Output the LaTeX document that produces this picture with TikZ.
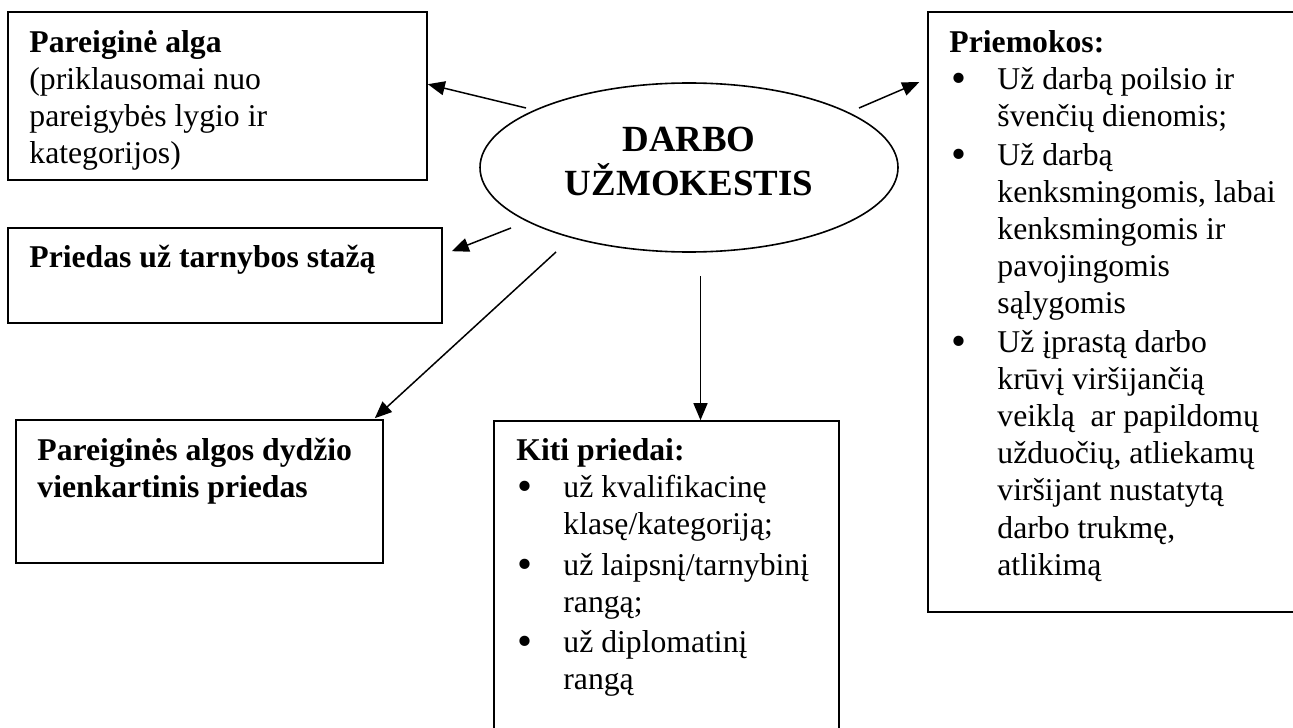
\documentclass[tikz,border=0pt]{standalone}
\usepackage{fontspec}
\usepackage{graphicx}
\setmainfont{Liberation Serif}
\usetikzlibrary{arrows.meta,shapes.geometric,fit,calc}
\newcommand{\bodyfs}{\fontsize{15.85pt}{18.6pt}\selectfont}
\newcommand{\ellfs}{\fontsize{18.45pt}{22pt}\selectfont\bfseries}
\newcommand{\myfl}{\rule{0pt}{16pt}}
\newcommand{\mybul}[2]{\makebox[#1][l]{\hspace{#2}\raisebox{-1.5pt}{\scalebox{1.35}{\textbullet}}}}
\begin{document}
\begin{tikzpicture}[x=0.5pt,y=-0.5pt,
  box/.style={draw, line width=0.8pt, inner sep=0pt},
  arr/.style={line width=0.75pt, -{Triangle[length=8.5pt,width=7pt]}},
  txt/.style={anchor=north west, inner sep=0pt, align=left, font=\bodyfs}]
\useasboundingbox (0,0) rectangle (1293,727);
\fill[white] (0,0) rectangle (1293,727);

% boxes
\node[box, fit={(8,12)(427,180)}] (b1) {};
\node[box, fit={(8,228)(442,323)}] (b2) {};
\node[box, fit={(16,420)(383,563)}] (b4) {};
\node[box, fit={(494,421)(839,745)}] (b5) {};
\node[box, fit={(928,12)(1310,612)}] (b3) {};

% ellipse
\node[draw, ellipse, line width=0.8pt, minimum width=209pt, minimum height=84.5pt, inner sep=0pt] (ell) at (689,167.5) {};
\node[font=\ellfs, align=center, inner sep=0pt] (ellt) at (689,161) {DARBO\\UŽMOKESTIS};

% texts
\node[txt] (t1) at (29,20) {\myfl\textbf{Pareiginė alga}\\(priklausomai nuo\\pareigybės lygio ir\\kategorijos)};
\node[txt] (t2) at (29,235) {\myfl\textbf{Priedas už tarnybos stažą}};
\node[txt] (t4) at (37,428) {\myfl\textbf{Pareiginės algos dydžio}\\\textbf{vienkartinis priedas}};
\node[txt] (t5) at (516,428) {\myfl\textbf{Kiti priedai:}\\
\mybul{23.5pt}{0.5pt}už kvalifikacinę\\
\makebox[23.5pt]{}klasę/kategoriją;\\[1.5pt]
\mybul{23.5pt}{0.5pt}už laipsnį/tarnybinį\\
\makebox[23.5pt]{}rangą;\\[1.5pt]
\mybul{23.5pt}{0.5pt}už diplomatinį\\
\makebox[23.5pt]{}rangą};
\node[txt] (t3) at (949,20) {\myfl\textbf{Priemokos:}\\
\mybul{24pt}{1pt}Už darbą poilsio ir\\
\makebox[24pt]{}švenčių dienomis;\\[0.5pt]
\mybul{24pt}{1pt}Už darbą\\
\makebox[24pt]{}kenksmingomis, labai\\
\makebox[24pt]{}kenksmingomis ir\\
\makebox[24pt]{}pavojingomis\\
\makebox[24pt]{}sąlygomis\\[0.5pt]
\mybul{24pt}{1pt}Už įprastą darbo\\
\makebox[24pt]{}krūvį viršijančią\\
\makebox[24pt]{}veiklą\ \ ar papildomų\\
\makebox[24pt]{}užduočių, atliekamų\\
\makebox[24pt]{}viršijant nustatytą\\
\makebox[24pt]{}darbo trukmę,\\
\makebox[24pt]{}atlikimą};

% connectors
\coordinate (s1) at (526,108);
\coordinate (s2) at (511,228);
\coordinate (s3) at (556,252);
\coordinate (s4) at (859,108);
\coordinate (s5) at (700.5,276);
\draw[arr] (s1) -- ($(b1.north east)+(0,73)$);
\draw[arr] (s2) -- ($(b2.north east)+(9,24)$);
\draw[arr] (s3) -- ($(b4.north east)+(-9,-1)$);
\draw[arr] (s4) -- ($(b3.north west)+(-8,71)$);
\draw[arr] (s5) -- (s5 |- b5.north);
\end{tikzpicture}
\end{document}
